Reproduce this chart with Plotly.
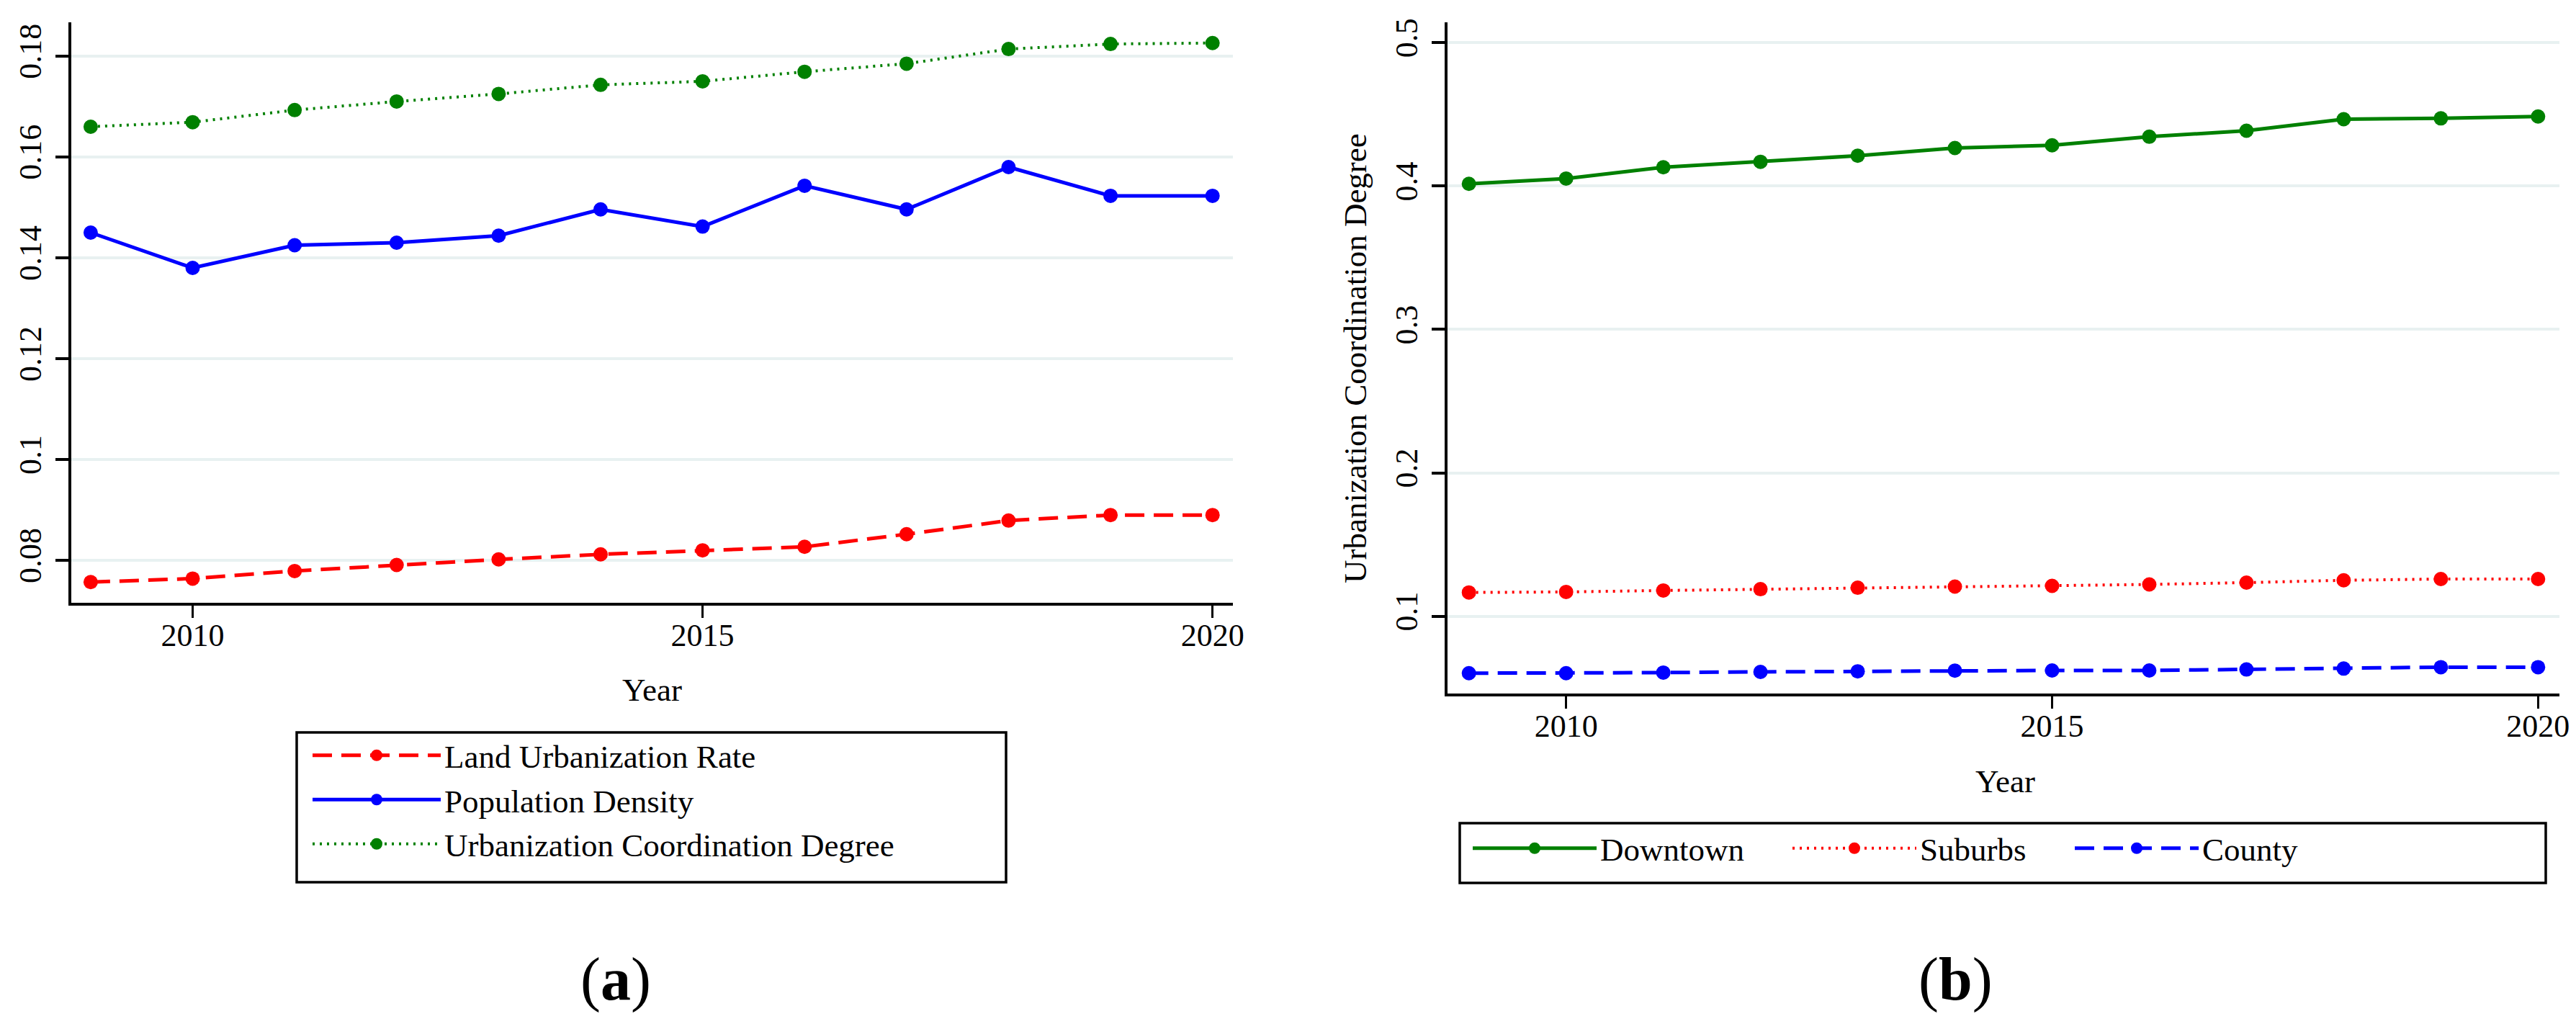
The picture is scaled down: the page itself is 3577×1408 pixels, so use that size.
import plotly.graph_objects as go

# ---------------- data ----------------
years = [2009, 2010, 2011, 2012, 2013, 2014, 2015, 2016, 2017, 2018, 2019, 2020]

land_urbanization_rate = [0.0757, 0.0764, 0.0779, 0.0791, 0.0802, 0.0812, 0.0820,
                          0.0827, 0.0852, 0.0879, 0.0890, 0.0890]
population_density = [0.1450, 0.1380, 0.1425, 0.1430, 0.1444, 0.1496, 0.1462,
                      0.1543, 0.1496, 0.1580, 0.1523, 0.1523]
coordination_degree = [0.1660, 0.1669, 0.1693, 0.1710, 0.1725, 0.1743, 0.1750,
                       0.1769, 0.1785, 0.1814, 0.1824, 0.1826]

downtown = [0.4016, 0.4053, 0.4132, 0.4170, 0.4212, 0.4266, 0.4285,
            0.4345, 0.4387, 0.4467, 0.4473, 0.4486]
suburbs = [0.1165, 0.1169, 0.1179, 0.1188, 0.1198, 0.1206, 0.1211,
           0.1221, 0.1234, 0.1250, 0.1259, 0.1259]
county = [0.0602, 0.0602, 0.0606, 0.0611, 0.0615, 0.0620, 0.0621,
          0.0621, 0.0628, 0.0634, 0.0644, 0.0644]

x_ticks = [2010, 2015, 2020]
ya_ticks = [0.08, 0.10, 0.12, 0.14, 0.16, 0.18]
ya_labels = ["0.08", "0.1", "0.12", "0.14", "0.16", "0.18"]
yb_ticks = [0.1, 0.2, 0.3, 0.4, 0.5]
yb_labels = ["0.1", "0.2", "0.3", "0.4", "0.5"]

# ---------------- layout helpers ----------------
W, H = 3577, 1408
FONT = "Liberation Serif, serif"
RED, BLUE, GREEN = "#FF0000", "#0000FF", "#008000"
GRID = "#E8F1F1"


def fx(px):
    return px / W


def fy(py):
    return 1 - py / H


fig = go.Figure()

DASH = "27px,13px"
DOT = "3px,7px"
MS = 20

# panel (a)
fig.add_trace(go.Scatter(x=years, y=land_urbanization_rate, name="Land Urbanization Rate",
                         mode="lines+markers", line=dict(color=RED, width=5, dash=DASH),
                         marker=dict(color=RED, size=MS), xaxis="x", yaxis="y", legend="legend"))
fig.add_trace(go.Scatter(x=years, y=population_density, name="Population Density",
                         mode="lines+markers", line=dict(color=BLUE, width=5),
                         marker=dict(color=BLUE, size=MS), xaxis="x", yaxis="y", legend="legend"))
fig.add_trace(go.Scatter(x=years, y=coordination_degree, name="Urbanization Coordination Degree",
                         mode="lines+markers", line=dict(color=GREEN, width=4, dash=DOT),
                         marker=dict(color=GREEN, size=MS), xaxis="x", yaxis="y", legend="legend"))

# panel (b)
fig.add_trace(go.Scatter(x=years, y=downtown, name="Downtown",
                         mode="lines+markers", line=dict(color=GREEN, width=5),
                         marker=dict(color=GREEN, size=MS), xaxis="x2", yaxis="y2", legend="legend2"))
fig.add_trace(go.Scatter(x=years, y=suburbs, name="Suburbs",
                         mode="lines+markers", line=dict(color=RED, width=4, dash=DOT),
                         marker=dict(color=RED, size=MS), xaxis="x2", yaxis="y2", legend="legend3"))
fig.add_trace(go.Scatter(x=years, y=county, name="County",
                         mode="lines+markers", line=dict(color=BLUE, width=5, dash=DASH),
                         marker=dict(color=BLUE, size=MS), xaxis="x2", yaxis="y2", legend="legend4"))

tickfont = dict(family=FONT, size=44, color="black")
common_x = dict(showline=True, linecolor="black", linewidth=3.5, ticks="outside", ticklen=17,
                tickwidth=3, tickcolor="black", showgrid=False, zeroline=False,
                tickvals=x_ticks, ticktext=[str(v) for v in x_ticks], tickfont=tickfont,
                ticklabelstandoff=-14, automargin=False, fixedrange=True)
common_y = dict(showline=True, linecolor="black", linewidth=3.5, ticks="outside", ticklen=18,
                tickwidth=3.5, tickcolor="black", showgrid=True, gridcolor=GRID, gridwidth=4,
                zeroline=False, tickangle=-90, tickfont=tickfont, ticklabelstandoff=3,
                automargin=False, fixedrange=True)

leg_common = dict(font=dict(family=FONT, size=45, color="black"), bgcolor="rgba(0,0,0,0)",
                  borderwidth=0, xref="paper", yref="paper", xanchor="left", yanchor="top",
                  itemclick=False, itemdoubleclick=False)

fig.update_layout(
    width=W, height=H, template="none",
    paper_bgcolor="white", plot_bgcolor="white",
    margin=dict(l=0, r=0, t=0, b=0, pad=0, autoexpand=False),
    font=dict(family=FONT, color="black"),
    xaxis=dict(domain=[fx(91), fx(1704)], range=[2008.81, 2020.2], anchor="y", **common_x),
    yaxis=dict(domain=[fy(829), fy(23)], range=[0.0716, 0.1867], anchor="x",
               tickvals=ya_ticks, ticktext=ya_labels, **common_y),
    xaxis2=dict(domain=[fx(2002), fx(3546)], range=[2008.78, 2020.22], anchor="y2", **common_x),
    yaxis2=dict(domain=[fy(955), fy(23)], range=[0.0460, 0.5143], anchor="x2",
                tickvals=yb_ticks, ticktext=yb_labels, **common_y),
    legend=dict(x=fx(421), y=fy(1005), orientation="v", itemwidth=178, **leg_common),
    legend2=dict(x=fx(2032), y=fy(1134), orientation="h", itemwidth=172, **leg_common),
    legend3=dict(x=fx(2476), y=fy(1134), orientation="h", itemwidth=172, **leg_common),
    legend4=dict(x=fx(2868), y=fy(1134), orientation="h", itemwidth=172, **leg_common),
    shapes=[
        dict(type="rect", xref="paper", yref="paper", x0=fx(404), x1=fx(1389), y0=fy(1217), y1=fy(1009),
             line=dict(color="black", width=3.5), fillcolor="rgba(0,0,0,0)", layer="above"),
        dict(type="rect", xref="paper", yref="paper", x0=fx(2019), x1=fx(3527), y0=fy(1218), y1=fy(1135),
             line=dict(color="black", width=3.5), fillcolor="rgba(0,0,0,0)", layer="above"),
    ],
    annotations=[
        dict(text="Year", x=fx(897), y=fy(950), xref="paper", yref="paper", showarrow=False,
             xanchor="center", yanchor="middle", font=dict(family=FONT, size=45)),
        dict(text="Year", x=fx(2776), y=fy(1077), xref="paper", yref="paper", showarrow=False,
             xanchor="center", yanchor="middle", font=dict(family=FONT, size=45)),
        dict(text="Urbanization Coordination Degree", x=fx(1874), y=fy(489), xref="paper", yref="paper",
             showarrow=False, textangle=-90, xanchor="center", yanchor="middle",
             font=dict(family=FONT, size=45)),
        dict(text="(<b>a</b>)", x=fx(847), y=fy(1352), xref="paper", yref="paper", showarrow=False,
             xanchor="center", yanchor="middle", font=dict(family=FONT, size=84)),
        dict(text="(<b>b</b>)", x=fx(2707), y=fy(1352), xref="paper", yref="paper", showarrow=False,
             xanchor="center", yanchor="middle", font=dict(family=FONT, size=84)),
    ],
)

fig.write_html("out.html")
